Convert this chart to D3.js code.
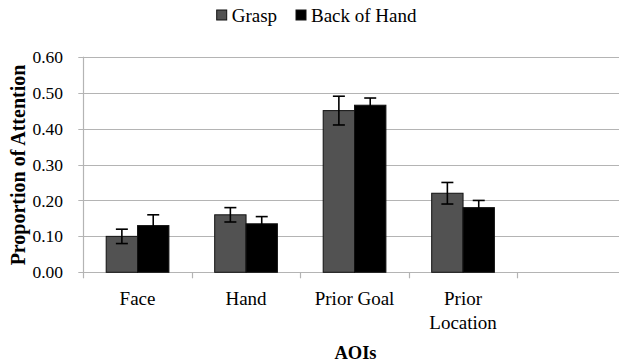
<!DOCTYPE html>
<html>
<head>
<meta charset="utf-8">
<script src="https://cdn.jsdelivr.net/npm/d3@7"></script>
<style>
  html, body { margin: 0; padding: 0; background: #fff; }
  svg { display: block; }
  text { font-family: "Liberation Serif", "Times New Roman", serif; fill: #000; }
</style>
</head>
<body>
<svg id="chart" width="624" height="362"></svg>
<script>
// Areas of interest along the x axis
const categories = ["Face", "Hand", "Prior Goal", "Prior Location"];
const seriesNames = ["Grasp", "Back of Hand"];

// Mean proportion of attention per condition
const graspValues = [0.10, 0.16, 0.45, 0.22];
const backOfHandValues = [0.13, 0.135, 0.465, 0.18];

// Standard errors
const graspErrors = [0.02, 0.02, 0.04, 0.03];
const backOfHandErrors = [0.03, 0.02, 0.02, 0.02];

// Y axis tick values
const yTicks = [0.00, 0.10, 0.20, 0.30, 0.40, 0.50, 0.60];

const colors = { "Grasp": "#525252", "Back of Hand": "#000000" };

const rows = categories.map((c, i) => ({
  category: c,
  values: [
    { series: "Grasp", value: graspValues[i], err: graspErrors[i] },
    { series: "Back of Hand", value: backOfHandValues[i], err: backOfHandErrors[i] }
  ]
}));

const svg = d3.select("#chart");

const plot = { left: 83.3, right: 619, top: 56.7, bottom: 272.3 };
const step = 108.5;

const x0 = d3.scaleBand()
  .domain(categories)
  .range([plot.left, plot.left + step * categories.length])
  .padding(0);

const x1 = d3.scaleBand()
  .domain(seriesNames)
  .range([0, x0.bandwidth()])
  .paddingInner(0)
  .paddingOuter(0.73);

const y = d3.scaleLinear().domain([0, 0.6]).range([plot.bottom, plot.top]);

const gridColor = "#b4b4b4";

// Horizontal gridlines with small left ticks
svg.append("g")
  .selectAll("line")
  .data(yTicks)
  .join("line")
  .attr("x1", plot.left - 5)
  .attr("x2", plot.right)
  .attr("y1", d => Math.round(y(d)) + 0.5)
  .attr("y2", d => Math.round(y(d)) + 0.5)
  .attr("stroke", gridColor)
  .attr("stroke-width", 1.2);

// Y axis line
svg.append("line")
  .attr("x1", Math.round(plot.left) + 0.5).attr("x2", Math.round(plot.left) + 0.5)
  .attr("y1", y(0.6)).attr("y2", plot.bottom + 1)
  .attr("stroke", gridColor).attr("stroke-width", 1.2);

// Y tick labels
svg.append("g")
  .selectAll("text")
  .data(yTicks)
  .join("text")
  .attr("x", 63)
  .attr("y", d => y(d))
  .attr("dy", "0.35em")
  .attr("text-anchor", "end")
  .style("font-size", "17.5px")
  .text(d => d3.format(".2f")(d));

// X axis tick marks at category boundaries
const boundaries = d3.range(categories.length + 1).map(i => plot.left + i * step);
svg.append("g")
  .selectAll("line")
  .data(boundaries)
  .join("line")
  .attr("x1", d => Math.round(d) + 0.5).attr("x2", d => Math.round(d) + 0.5)
  .attr("y1", plot.bottom).attr("y2", plot.bottom + 6)
  .attr("stroke", gridColor).attr("stroke-width", 1.2);

// Bars
const groups = svg.append("g")
  .selectAll("g")
  .data(rows)
  .join("g")
  .attr("transform", d => `translate(${x0(d.category)},0)`);

groups.selectAll("rect")
  .data(d => d.values)
  .join("rect")
  .attr("x", d => x1(d.series))
  .attr("y", d => y(d.value))
  .attr("width", x1.bandwidth())
  .attr("height", d => y(0) - y(d.value))
  .attr("fill", d => colors[d.series])
  .attr("stroke", "#111")
  .attr("stroke-width", 1);

// Error bars
const capHalf = 6;
const eb = groups.selectAll("g.err")
  .data(d => d.values)
  .join("g")
  .attr("class", "err")
  .attr("transform", d => `translate(${x1(d.series) + x1.bandwidth() / 2},0)`);

eb.append("line")
  .attr("x1", 0).attr("x2", 0)
  .attr("y1", d => y(d.value + d.err))
  .attr("y2", d => y(d.value - d.err))
  .attr("stroke", "#000").attr("stroke-width", 1.6);
eb.append("line")
  .attr("x1", -capHalf).attr("x2", capHalf)
  .attr("y1", d => y(d.value + d.err)).attr("y2", d => y(d.value + d.err))
  .attr("stroke", "#000").attr("stroke-width", 1.6);
eb.append("line")
  .attr("x1", -capHalf).attr("x2", capHalf)
  .attr("y1", d => y(d.value - d.err)).attr("y2", d => y(d.value - d.err))
  .attr("stroke", "#000").attr("stroke-width", 1.6);

// Category labels (wrapped onto two lines where needed)
const labelLines = { "Prior Location": ["Prior", "Location"] };
const xl = svg.append("g")
  .selectAll("text")
  .data(categories)
  .join("text")
  .attr("x", d => x0(d) + x0.bandwidth() / 2)
  .attr("y", 305)
  .attr("text-anchor", "middle")
  .style("font-size", "19px");
xl.each(function (d) {
  const lines = labelLines[d] || [d];
  const t = d3.select(this);
  lines.forEach((ln, i) => {
    t.append("tspan")
      .attr("x", x0(d) + x0.bandwidth() / 2)
      .attr("dy", i === 0 ? 0 : 23.5)
      .text(ln);
  });
});

// Axis titles
svg.append("text")
  .attr("x", 355.5).attr("y", 358.5)
  .attr("text-anchor", "middle")
  .style("font-size", "18.5px").style("font-weight", "bold")
  .text("AOIs");

svg.append("text")
  .attr("transform", "translate(25,165) rotate(-90)")
  .attr("text-anchor", "middle")
  .style("font-size", "20px").style("font-weight", "bold")
  .text("Proportion of Attention");

// Legend
const legendItems = [
  { name: "Grasp", x: 216.7 },
  { name: "Back of Hand", x: 296 }
];
const lg = svg.append("g")
  .selectAll("g")
  .data(legendItems)
  .join("g")
  .attr("transform", d => `translate(${d.x},10)`);
lg.append("rect")
  .attr("width", 10).attr("height", 10)
  .attr("fill", d => colors[d.name])
  .attr("stroke", "#111").attr("stroke-width", 1);
lg.append("text")
  .attr("x", 15).attr("y", 11.7)
  .style("font-size", "19px")
  .text(d => d.name);
</script>
</body>
</html>
